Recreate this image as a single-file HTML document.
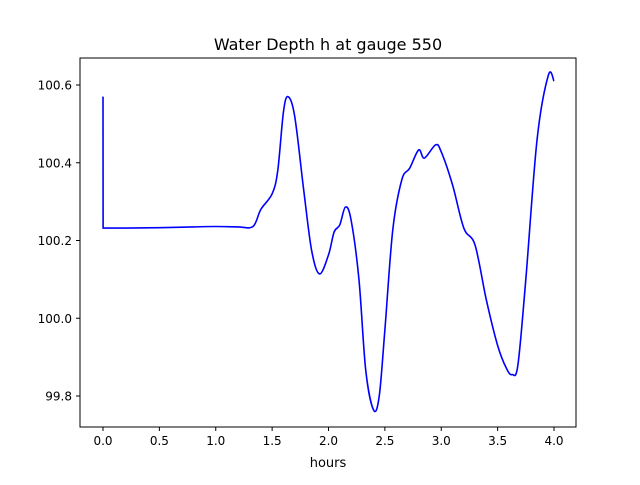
<!DOCTYPE html>
<html><head><meta charset="utf-8"><style>
body{margin:0;background:#fff;}
svg text{font-family:"DejaVu Sans","Liberation Sans",sans-serif;}
</style></head><body>
<svg id="chart" width="640" height="480" xmlns="http://www.w3.org/2000/svg">
<rect width="640" height="480" fill="#fff"/>
<text x="328" y="50" font-size="16" text-anchor="middle">Water Depth h at gauge 550</text>
<g id="ticks"></g>
<path id="line" fill="none" stroke="#0000ff" stroke-width="1.6"/>
<rect x="80" y="58" width="496" height="369" fill="none" stroke="#000" stroke-width="1"/>
<text x="328" y="467" font-size="13" text-anchor="middle">hours</text>
</svg>
<script>
const hours=[0,0.001,0.2,0.5,0.8,1.0,1.2,1.33,1.4,1.5,1.55,1.6,1.64,1.7,1.78,1.85,1.92,2.0,2.05,2.1,2.15,2.2,2.27,2.33,2.4,2.45,2.5,2.57,2.65,2.72,2.8,2.85,2.95,3.0,3.1,3.2,3.3,3.4,3.5,3.58,3.63,3.68,3.75,3.85,3.95,4.0];
const depth=[100.57,100.232,100.232,100.233,100.235,100.236,100.235,100.236,100.28,100.32,100.38,100.53,100.57,100.52,100.33,100.175,100.114,100.163,100.222,100.24,100.286,100.253,100.1,99.867,99.764,99.8,99.97,100.227,100.356,100.386,100.433,100.412,100.446,100.428,100.343,100.232,100.188,100.047,99.93,99.87,99.855,99.88,100.1,100.46,100.625,100.61];
const xTicks=[0,0.5,1,1.5,2,2.5,3,3.5,4];
const xLabels=["0.0","0.5","1.0","1.5","2.0","2.5","3.0","3.5","4.0"];
const yTicks=[99.8,100.0,100.2,100.4,100.6];
const yLabels=["99.8","100.0","100.2","100.4","100.6"];
const X=t=>103+112.75*t;
const Y=v=>85-(v-100.6)*388.75;
const ns="http://www.w3.org/2000/svg";
const g=document.getElementById('ticks');
xTicks.forEach((t,i)=>{
 const l=document.createElementNS(ns,'line');
 l.setAttribute('x1',X(t));l.setAttribute('x2',X(t));l.setAttribute('y1',427);l.setAttribute('y2',431);l.setAttribute('stroke','#000');
 
 
 g.appendChild(l);
 const tx=document.createElementNS(ns,'text');
 tx.setAttribute('x',X(t));tx.setAttribute('y',445);tx.setAttribute('font-size','12');tx.setAttribute('text-anchor','middle');
 tx.textContent=xLabels[i];
 
 
 g.appendChild(tx);
});
yTicks.forEach((v,i)=>{
 const l=document.createElementNS(ns,'line');
 l.setAttribute('x1',76);l.setAttribute('x2',80);l.setAttribute('y1',Y(v));l.setAttribute('y2',Y(v));l.setAttribute('stroke','#000');
 
 
 g.appendChild(l);
 const tx=document.createElementNS(ns,'text');
 tx.setAttribute('x',72);tx.setAttribute('y',Y(v)+4.5);tx.setAttribute('font-size','12');tx.setAttribute('text-anchor','end');
 tx.textContent=yLabels[i];
 
 
 g.appendChild(tx);
});
const P=hours.map((t,i)=>[X(t),Y(depth[i])]);
let d='M'+P[0][0]+','+P[0][1]+' L'+P[1][0]+','+P[1][1];
for(let i=1;i<P.length-1;i++){
 const p0=P[Math.max(i-1,1)],p1=P[i],p2=P[i+1],p3=P[Math.min(i+2,P.length-1)];
 const c1=[p1[0]+(p2[0]-p0[0])/6,p1[1]+(p2[1]-p0[1])/6];
 const c2=[p2[0]-(p3[0]-p1[0])/6,p2[1]-(p3[1]-p1[1])/6];
 d+=' C'+c1[0]+','+c1[1]+' '+c2[0]+','+c2[1]+' '+p2[0]+','+p2[1];
}
document.getElementById('line').setAttribute('d',d);
</script>
</body></html>
